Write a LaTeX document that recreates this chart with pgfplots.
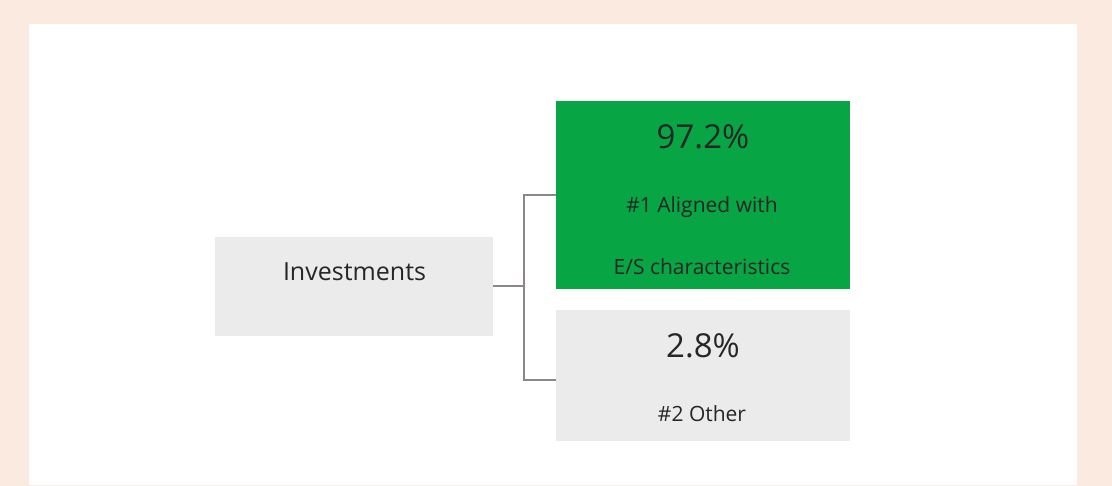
\documentclass[border=0pt]{standalone}
\usepackage{fontspec}
\setmainfont{Open Sans}
\usepackage{pgfplots}
\pgfplotsset{compat=1.18}
\definecolor{peach}{HTML}{FBEADF}
\definecolor{boxgreen}{HTML}{07A543}
\definecolor{boxgrey}{HTML}{EBEBEB}
\definecolor{linegrey}{HTML}{8E878A}
\definecolor{txt}{HTML}{262626}
\begin{document}
\begin{tikzpicture}
\begin{axis}[
  width=1112pt, height=486pt, scale only axis,
  xmin=0, xmax=1112, ymin=0, ymax=486, y dir=reverse,
  hide axis, clip=false,
]
% background
\addplot[fill=peach, draw=none] coordinates {(0,0) (1112,0) (1112,486) (0,486)} -- cycle;
\addplot[fill=white, draw=none] coordinates {(29,24) (1077,24) (1077,485) (29,485)} -- cycle;
% boxes
\addplot[fill=boxgrey, draw=none] coordinates {(215,237) (493,237) (493,336) (215,336)} -- cycle;
\addplot[fill=boxgreen, draw=none] coordinates {(556,101) (850,101) (850,289) (556,289)} -- cycle;
\addplot[fill=boxgrey, draw=none] coordinates {(556,310) (850,310) (850,441) (556,441)} -- cycle;
% connectors
\addplot[linegrey, line width=1.3pt] coordinates {(493,286) (524,286)};
\addplot[linegrey, line width=1.3pt] coordinates {(556,195) (524,195) (524,380) (556,380)};
% texts
\node[txt, font=\fontsize{25}{30}\selectfont] at (axis cs:354.5,272) {Investments};
\node[txt, font=\fontsize{33}{40}\selectfont] at (axis cs:703,137) {97.2\%};
\node[txt, font=\fontsize{21}{25}\selectfont] at (axis cs:702,207) {\#1 Aligned with};
\node[txt, font=\fontsize{21}{25}\selectfont] at (axis cs:702,267) {E/S characteristics};
\node[txt, font=\fontsize{33}{40}\selectfont] at (axis cs:703,346) {2.8\%};
\node[txt, font=\fontsize{21}{25}\selectfont] at (axis cs:702,414) {\#2 Other};
\end{axis}
\end{tikzpicture}
\end{document}
